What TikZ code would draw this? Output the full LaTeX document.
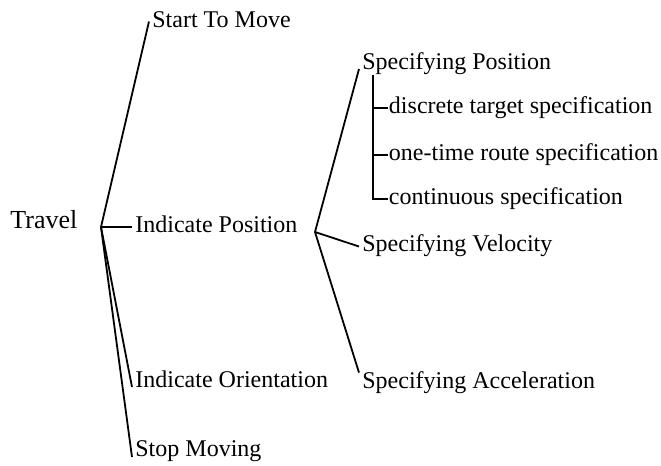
\documentclass[tikz,border=0pt]{standalone}
\usepackage{fontspec}
\setmainfont{Liberation Serif}
\usepackage{tikz}
\usetikzlibrary{positioning, calc}

\tikzset{
    branch/.style={line width=0.9pt, black},
    leaf/.style={font=\fontsize{12}{14}\selectfont, inner xsep=1.5pt, inner ysep=0pt,
                 text height=8pt, text depth=2.5pt, anchor=base west},
    subleaf/.style={leaf, inner xsep=0.3pt}
}

\begin{document}
\begin{tikzpicture}[x=0.5pt, y=-0.5pt]
    \useasboundingbox (0, 0) rectangle (661, 466);

    % Root and first level
    \node[leaf, font=\fontsize{13}{15}\selectfont] (travel) at (7, 228) {Travel};
    \coordinate (j0) at (101, 227);
    \node[leaf] (stm) at (149, 27) {Start To Move};
    \node[leaf] (ip) at (132, 232.5) {Indicate Position};
    \node[leaf] (io) at (132, 387) {Indicate Orientation};
    \node[leaf] (sm) at (132, 457) {Stop Moving};

    \draw[branch] (j0) -- (stm.west);
    \draw[branch] (j0) -- (ip.west);
    \draw[branch] (j0) -- (io.base west);
    \draw[branch] (j0) -- (sm.base west);

    % Second level under Indicate Position
    \coordinate (j1) at (315, 232);
    \node[leaf] (sp) at (359, 69) {Specifying Position};
    \node[leaf] (sv) at (359, 252) {Specifying Velocity};
    \node[leaf] (sa) at (359, 389) {Specifying Acceleration};

    \draw[branch] (j1) -- (sp.base west);
    \draw[branch] (j1) -- (sv.west);
    \draw[branch] (j1) -- (sa.north west);

    % Kinds of position specification
    \coordinate (k) at (373, 75);
    \node[subleaf] (dts) at (388, 113.5) {discrete target specification};
    \node[subleaf] (ots) at (388, 160.5) {one-time route specification};
    \node[subleaf] (cs) at (388, 204.5) {continuous specification};

    \draw[branch] (k) |- (cs.west);
    \draw[branch] (k |- dts.west) -- (dts.west);
    \draw[branch] (k |- ots.west) -- (ots.west);
\end{tikzpicture}
\end{document}
